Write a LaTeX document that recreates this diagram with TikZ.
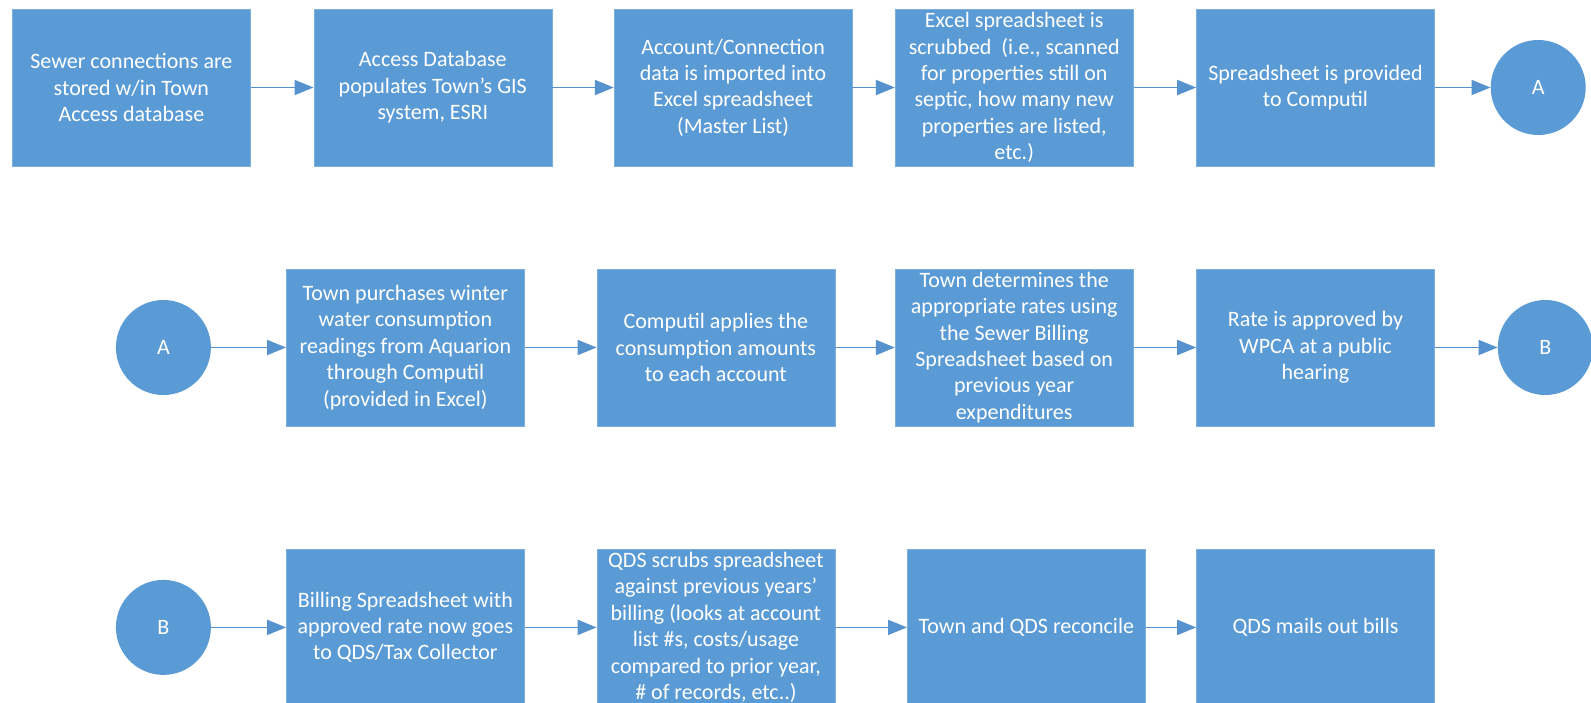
\documentclass[tikz,border=0pt]{standalone}
\usepackage{fontspec}
\setmainfont{Carlito}
\usetikzlibrary{arrows.meta}
\definecolor{boxblue}{HTML}{5B9BD5}
\definecolor{lineblue}{HTML}{5592CE}
\begin{document}
\begin{tikzpicture}[x=1pt,y=-1pt,
  stepbox/.style={rectangle, fill=boxblue, draw=boxblue!80!white, line width=0.6pt,
    minimum width=238pt, minimum height=157pt, inner sep=0pt, align=center,
    text=white, font=\fontsize{22}{26.4}\selectfont},
  joint/.style={circle, fill=boxblue, minimum size=95pt, inner sep=0pt,
    text=white, font=\fontsize{22}{26.4}\selectfont},
  flow/.style={draw=lineblue, line width=1.8pt, -{Triangle[length=19pt,width=15pt]}}]
\useasboundingbox (0,0) rectangle (1591,702);
\fill[white] (0,0) rectangle (1591,702);
\clip (0,0) rectangle (1591,702);
% Row 1
\node[stepbox] (b1) at (131.4,87.5) {Sewer connections are\\stored w/in Town\\Access database};
\node[stepbox] (b2) at (432.8,87.5) {Access Database\\populates Town’s GIS\\system, ESRI};
\node[stepbox] (b3) at (733.1,87.5) {Account/Connection\\data is imported into\\Excel spreadsheet\\(Master List)};
\node[stepbox] (b4) at (1014.2,87.5) {Excel spreadsheet is\\scrubbed~ (i.e., scanned\\for properties still on\\septic, how many new\\properties are listed,\\etc.)};
\node[stepbox] (b5) at (1315.5,87.5) {Spreadsheet is provided\\to Computil};
\node[joint] (cA) at (1538.2,87.5) {A};
% Row 2
\node[joint] (cA2) at (163.4,347.5) {A};
\node[stepbox] (b6) at (405.4,347.5) {Town purchases winter\\water consumption\\readings from Aquarion\\through Computil\\(provided in Excel)};
\node[stepbox] (b7) at (715.9,347.5) {Computil applies the\\consumption amounts\\to each account};
\node[stepbox] (b8) at (1014.2,347.5) {Town determines the\\appropriate rates using\\the Sewer Billing\\Spreadsheet based on\\previous year\\expenditures};
\node[stepbox] (b9) at (1315.5,347.5) {Rate is approved by\\WPCA at a public\\hearing};
\node[joint] (cB) at (1545.3,347.5) {B};
% Row 3
\node[joint] (cB2) at (163.4,627.4) {B};
\node[stepbox] (b10) at (405.4,627.4) {Billing Spreadsheet with\\approved rate now goes\\to QDS/Tax Collector};
\node[stepbox] (b11) at (715.9,627.4) {QDS scrubs spreadsheet\\against previous years’\\billing (looks at account\\list \#s, costs/usage\\compared to prior year,\\\# of records, etc..)};
\node[stepbox] (b12) at (1026.3,627.4) {Town and QDS reconcile};
\node[stepbox] (b13) at (1315.5,627.4) {QDS mails out bills};
% Connectors
\draw[flow] (b1) -- (b2);
\draw[flow] (b2) -- (b3);
\draw[flow] (b3) -- (b4);
\draw[flow] (b4) -- (b5);
\draw[flow] (b5) -- (cA);
\draw[flow] (cA2) -- (b6);
\draw[flow] (b6) -- (b7);
\draw[flow] (b7) -- (b8);
\draw[flow] (b8) -- (b9);
\draw[flow] (b9) -- (cB);
\draw[flow] (cB2) -- (b10);
\draw[flow] (b10) -- (b11);
\draw[flow] (b11) -- (b12);
\draw[flow] (b12) -- (b13);
\end{tikzpicture}
\end{document}
